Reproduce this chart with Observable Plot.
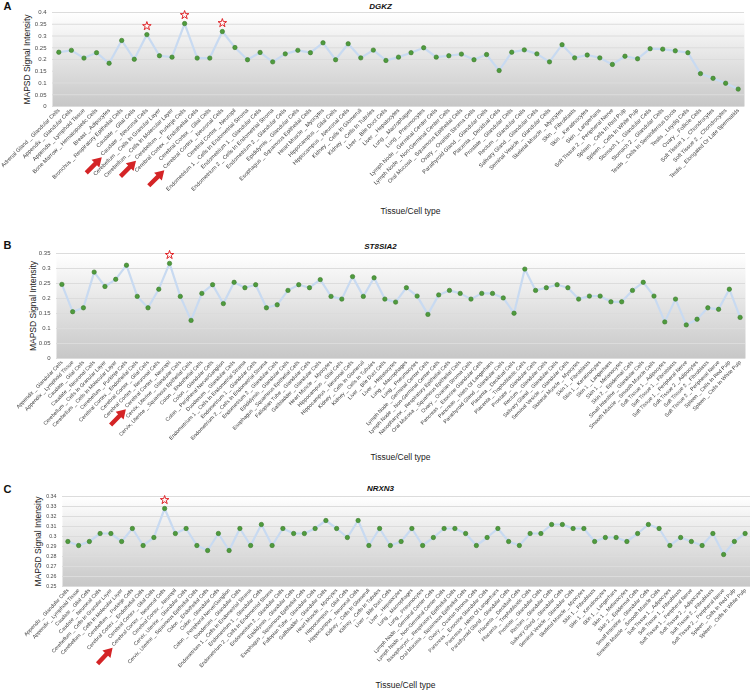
<!DOCTYPE html>
<html><head><meta charset="utf-8">
<script src="https://cdn.jsdelivr.net/npm/d3@7"></script>
<script src="https://cdn.jsdelivr.net/npm/@observablehq/plot@0.6"></script>
<style>
body{margin:0;background:#fff;}
#root{position:relative;width:750px;height:691px;overflow:hidden;}
.panel{position:absolute;left:0;}
</style>
</head><body><div id="root"></div>
<script>
const tissuesA = [
"Adrenal Gland _ Glandular Cells","Appendix _ Glandular Cells","Appendix _ Lymphoid Tissue","Bone Marrow _ Hematopoietic Cells","Breast _ Adipocytes","Bronchus _ Respiratory Epithelial Cells","Caudate _ Glial Cells","Caudate _ Neuronal Cells","Cerebellum _ Cells In Granular Layer","Cerebellum _ Cells In Molecular Layer",
"Cerebellum _ Purkinje Cells","Cerebral Cortex _ Endothelial Cells","Cerebral Cortex _ Glial Cells","Cerebral Cortex _ Neuronal Cells","Cerebral Cortex _ Neuropil","Endometrium 1 _ Cells In Endometrial Stroma","Endometrium 1 _ Glandular Cells","Endometrium 2 _ Cells In Endometrial Stroma","Endometrium 2 _ Glandular Cells","Epididymis _ Glandular Cells",
"Esophagus _ Squamous Epithelial Cells","Heart Muscle _ Myocytes","Hippocampus _ Glial Cells","Hippocampus _ Neuronal Cells","Kidney _ Cells In Glomeruli","Kidney _ Cells In Tubules","Liver _ Bile Duct Cells","Liver _ Hepatocytes","Lung _ Macrophages","Lung _ Pneumocytes",
"Lymph Node _ Germinal Center Cells","Lymph Node _ Non-Germinal Center Cells","Oral Mucosa _ Squamous Epithelial Cells","Ovary _ Ovarian Stroma Cells","Parathyroid Gland _ Glandular Cells","Placenta _ Decidual Cells","Prostate _ Glandular Cells","Rectum _ Glandular Cells","Salivary Gland _ Glandular Cells","Seminal Vesicle _ Glandular Cells",
"Skeletal Muscle _ Myocytes","Skin _ Fibroblasts","Skin _ Keratinocytes","Skin _ Langerhans","Soft Tissue 2 _ Peripheral Nerve","Spleen _ Cells In Red Pulp","Spleen _ Cells In White Pulp","Stomach 1 _ Glandular Cells","Stomach 2 _ Glandular Cells","Testis _ Cells In Seminiferous Ducts",
"Testis _ Leydig Cells","Ovary _ Follicle Cells","Soft Tissue 1 _ Chondrocytes","Soft Tissue 2 _ Chondrocytes","Testis _ Elongated Or Late Spermatids"
];
const valuesA = [0.231,0.239,0.206,0.229,0.184,0.281,0.201,0.306,0.216,0.21,
0.353,0.206,0.206,0.319,0.251,0.199,0.23,0.19,0.224,0.239,
0.229,0.271,0.199,0.267,0.207,0.24,0.196,0.21,0.229,0.25,
0.21,0.216,0.223,0.199,0.221,0.153,0.231,0.241,0.224,0.19,
0.263,0.207,0.219,0.207,0.179,0.214,0.203,0.246,0.244,0.237,
0.229,0.14,0.12,0.099,0.074];
const starredA = ["Caudate _ Neuronal Cells","Cerebellum _ Purkinje Cells","Cerebral Cortex _ Neuronal Cells"];
const yTicksA = [0,0.05,0.1,0.15,0.2,0.25,0.3,0.35,0.4];

const tissuesB = [
"Appendix _ Glandular Cells","Appendix _ Lymphoid Tissue","Caudate _ Glial Cells","Caudate _ Neuronal Cells","Cerebellum _ Cells In Granular Layer","Cerebellum _ Cells In Molecular Layer","Cerebellum _ Purkinje Cells","Cerebral Cortex _ Endothelial Cells","Cerebral Cortex _ Glial Cells","Cerebral Cortex _ Neuronal Cells",
"Cerebral Cortex _ Neuropil","Cervix, Uterine _ Glandular Cells","Cervix, Uterine _ Squamous Epithelial Cells","Colon _ Endothelial Cells","Colon _ Glandular Cells","Colon _ Peripheral Nerve/Ganglion","Duodenum _ Glandular Cells","Endometrium 1 _ Cells In Endometrial Stroma","Endometrium 1 _ Glandular Cells","Endometrium 2 _ Cells In Endometrial Stroma",
"Endometrium 2 _ Glandular Cells","Epididymis _ Glandular Cells","Esophagus _ Squamous Epithelial Cells","Fallopian Tube _ Glandular Cells","Gallbladder _ Glandular Cells","Heart Muscle _ Myocytes","Hippocampus _ Glial Cells","Hippocampus _ Neuronal Cells","Kidney _ Cells In Glomeruli","Kidney _ Cells In Tubules",
"Liver _ Bile Duct Cells","Liver _ Hepatocytes","Lung _ Macrophages","Lung _ Pneumocytes","Lymph Node _ Germinal Center Cells","Lymph Node _ Non-Germinal Center Cells","Nasopharynx _ Respiratory Epithelial Cells","Oral Mucosa _ Squamous Epithelial Cells","Ovary _ Ovarian Stroma Cells","Pancreas _ Exocrine Glandular Cells",
"Pancreas _ Islets Of Langerhans","Parathyroid Gland _ Glandular Cells","Placenta _ Decidual Cells","Placenta _ Trophoblastic Cells","Prostate _ Glandular Cells","Rectum _ Glandular Cells","Salivary Gland _ Glandular Cells","Seminal Vesicle _ Glandular Cells","Skeletal Muscle _ Myocytes","Skin 1 _ Fibroblasts",
"Skin 1 _ Keratinocytes","Skin 1 _ Langerhans","Skin 1 _ Melanocytes","Skin 2 _ Epidermal Cells","Small Intestine _ Glandular Cells","Smooth Muscle _ Smooth Muscle Cells","Soft Tissue 1 _ Adipocytes","Soft Tissue 1 _ Fibroblasts","Soft Tissue 1 _ Peripheral Nerve","Soft Tissue 2 _ Adipocytes",
"Soft Tissue 2 _ Fibroblasts","Soft Tissue 2 _ Peripheral Nerve","Spleen _ Cells In Red Pulp","Spleen _ Cells In White Pulp"
];
const valuesB = [0.247,0.156,0.169,0.288,0.24,0.264,0.311,0.207,0.169,0.231,
0.317,0.207,0.127,0.217,0.246,0.183,0.254,0.236,0.246,0.169,
0.179,0.227,0.246,0.236,0.263,0.207,0.198,0.273,0.207,0.269,
0.198,0.188,0.236,0.208,0.147,0.212,0.227,0.217,0.198,0.217,
0.217,0.202,0.151,0.298,0.227,0.236,0.246,0.236,0.198,0.208,
0.208,0.189,0.189,0.227,0.254,0.208,0.122,0.198,0.112,0.131,
0.169,0.164,0.231,0.137];
const starredB = ["Cerebral Cortex _ Neuropil"];
const yTicksB = [0,0.05,0.1,0.15,0.2,0.25,0.3,0.35];

const tissuesC = tissuesB.slice();
const valuesC = [0.295,0.291,0.295,0.303,0.303,0.295,0.308,0.291,0.299,0.328,
0.303,0.308,0.291,0.286,0.303,0.286,0.308,0.291,0.312,0.291,
0.308,0.303,0.303,0.308,0.316,0.308,0.299,0.316,0.291,0.308,
0.291,0.295,0.308,0.291,0.299,0.308,0.308,0.303,0.291,0.299,
0.308,0.295,0.291,0.303,0.303,0.312,0.312,0.308,0.308,0.295,
0.299,0.299,0.295,0.303,0.312,0.308,0.291,0.299,0.295,0.291,
0.303,0.282,0.295,0.303];
const starredC = ["Cerebral Cortex _ Neuronal Cells"];
const yTicksC = [0.25,0.26,0.27,0.28,0.29,0.3,0.31,0.32,0.33,0.34];

const panels = [
  {id:"pA", letter:"A", gene:"DGKZ", tissues:tissuesA, values:valuesA, starred:starredA, yTicks:yTicksA,
   top:0, height:232, mt:12, mb:126, ml:52, mr:6, rot:-45, xFont:5.6, yFont:6,
   letterX:3, letterY:6, titleX:380, titleY:6, ylabX:27, xTitleX:410, xTitleY:211},
  {id:"pB", letter:"B", gene:"ST8SIA2", tissues:tissuesB, values:valuesB, starred:starredB, yTicks:yTicksB,
   top:236, height:244, mt:17, mb:122, ml:56, mr:5, rot:-46, xFont:5.3, yFont:6,
   letterX:3, letterY:245, titleX:380, titleY:246, ylabX:33, xTitleX:400, xTitleY:457},
  {id:"pC", letter:"C", gene:"NRXN3", tissues:tissuesC, values:valuesC, starred:starredC, yTicks:yTicksC,
   top:480, height:211, mt:16, mb:105, ml:62, mr:0, rot:-47, xFont:5.2, yFont:5.3,
   letterX:3, letterY:489, titleX:380, titleY:488, ylabX:38, xTitleX:405, xTitleY:685}
];

const root = document.getElementById("root");
const W = 750;

for (const cfg of panels) {
  const data = cfg.tissues.map((t, i) => ({tissue: t, value: cfg.values[i], star: cfg.starred.includes(t)}));
  const plotL = cfg.ml, plotR = W - cfg.mr;
  const plotT = cfg.top + cfg.mt, plotB = cfg.top + cfg.height - cfg.mb;
  const plotCX = (plotL + plotR) / 2;
  const yDomain = [cfg.yTicks[0], cfg.yTicks[cfg.yTicks.length - 1]];
  const chart = Plot.plot({
    width: W, height: cfg.height,
    marginTop: cfg.mt, marginBottom: cfg.mb, marginLeft: cfg.ml, marginRight: cfg.mr,
    style: {fontFamily: "'Liberation Sans', Arial, sans-serif", background: "transparent", overflow: "visible"},
    x: {type: "point", domain: cfg.tissues, padding: 0.5, label: null},
    y: {domain: yDomain, label: null},
    marks: [
      Plot.frame({fill: `url(#${cfg.id}-grad)`, stroke: null}),
      Plot.gridY(cfg.yTicks, {stroke: "#dcdcdc", strokeOpacity: 1, strokeWidth: 1}),
      Plot.axisY(cfg.yTicks, {tickSize: 0, tickPadding: 6, fontSize: cfg.yFont, fill: "#4a4a4a", tickFormat: d => String(+d.toFixed(2)), label: null}),
      Plot.axisX({tickSize: 0, tickPadding: 3, tickRotate: cfg.rot, fontSize: cfg.xFont, fill: "#3a3a3a", label: null}),
      Plot.line(data, {x: "tissue", y: "value", stroke: "#c8daf1", strokeWidth: 2.2}),
      Plot.dot(data, {x: "tissue", y: "value", r: 2.2, fill: "#4f9b3d", stroke: "#3a7a2c", strokeWidth: 0.6}),
      Plot.dot(data.filter(d => d.star), {x: "tissue", y: "value", dy: -8.5, symbol: "star", r: 2.7, fill: "white", stroke: "#e0262a", strokeWidth: 1}),
      Plot.text([cfg.letter], {frameAnchor: "top-left", text: d => d, dx: cfg.letterX - plotL, dy: cfg.letterY - plotT, textAnchor: "start", lineAnchor: "middle", fontWeight: "bold", fontSize: 11, fill: "#111"}),
      Plot.text([cfg.gene], {frameAnchor: "top", text: d => d, dx: cfg.titleX - plotCX, dy: cfg.titleY - plotT, textAnchor: "middle", lineAnchor: "middle", fontWeight: "bold", fontStyle: "italic", fontSize: 8, fill: "#111"}),
      Plot.text(["MAPSD Signal Intensity"], {frameAnchor: "left", text: d => d, rotate: -90, dx: cfg.ylabX - plotL, textAnchor: "middle", lineAnchor: "middle", fontSize: 8.5, fill: "#222"}),
      Plot.text(["Tissue/Cell type"], {frameAnchor: "bottom", text: d => d, dx: cfg.xTitleX - plotCX, dy: cfg.xTitleY - plotB, textAnchor: "middle", lineAnchor: "middle", fontSize: 8.5, fill: "#222"})
    ]
  });
  const svg = d3.select(chart);
  const grad = svg.insert("defs", ":first-child").append("linearGradient")
    .attr("id", cfg.id + "-grad").attr("x1", 0).attr("y1", 0).attr("x2", 0).attr("y2", 1);
  grad.append("stop").attr("offset", "0%").attr("stop-color", "#ffffff");
  grad.append("stop").attr("offset", "100%").attr("stop-color", "#c7c7c7");
  // keep the small rotated labels rendered in neutral gray
  svg.selectAll('g[aria-label="x-axis tick label"], g[aria-label="y-axis tick label"]').style("filter", "grayscale(1)");

  const holder = document.createElement("div");
  holder.className = "panel";
  holder.style.top = cfg.top + "px";
  holder.appendChild(chart);
  root.appendChild(holder);

  // red arrows pointing at the starred tissues' tick labels
  const sr = chart.getBoundingClientRect();
  const labels = chart.querySelectorAll('g[aria-label="x-axis tick label"] text');
  for (const t of cfg.starred) {
    const el = Array.from(labels).find(e => e.textContent === t);
    if (!el) continue;
    const r = el.getBoundingClientRect();
    const tx = r.left - sr.left + 2.5, ty = r.bottom - sr.top + 0.5;
    svg.append("path")
      .attr("d", "M0,0L-9,-5.5L-9,-2.2L-22,-2.2L-22,2.2L-9,2.2L-9,5.5Z")
      .attr("transform", `translate(${tx},${ty}) rotate(${cfg.rot})`)
      .attr("fill", "#d42426");
  }
}
</script>
</body></html>
